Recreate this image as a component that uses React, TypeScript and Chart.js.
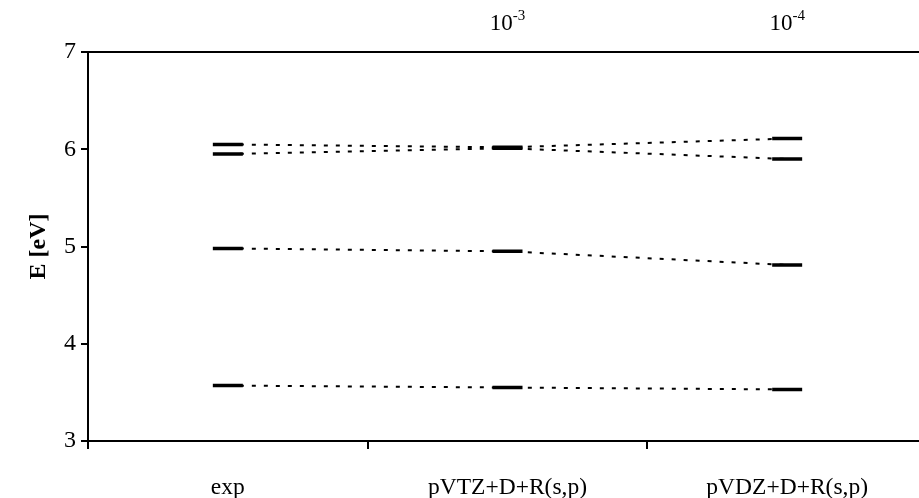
import React, { useEffect, useRef } from "react";
import { Chart, registerables } from "chart.js";

Chart.register(...registerables);

const categories = ["exp", "pVTZ+D+R(s,p)", "pVDZ+D+R(s,p)"];
const topLabels = ["", "10|-3", "10|-4"];
const levelA = [6.05, 6.02, 6.11];
const levelB = [5.95, 6.01, 5.9];
const levelC = [4.98, 4.95, 4.81];
const levelD = [3.57, 3.55, 3.53];
const yTicks = [3, 4, 5, 6, 7];

const FONT = "'Liberation Serif', 'Times New Roman', serif";

const topLabelPlugin = {
  id: "topLabels",
  afterDraw(chart: any) {
    const { ctx, chartArea, scales } = chart;
    ctx.save();
    ctx.strokeStyle = "#000";
    ctx.lineWidth = 2;
    ctx.beginPath();
    ctx.moveTo(chartArea.left, chartArea.top);
    ctx.lineTo(chartArea.right + 10, chartArea.top);
    ctx.stroke();
    ctx.fillStyle = "#000";
    ctx.textBaseline = "alphabetic";
    topLabels.forEach((lab, i) => {
      if (!lab) return;
      const [base, sup] = lab.split("|");
      const x = scales.x.getPixelForValue(i);
      ctx.font = `23px ${FONT}`;
      const wb = ctx.measureText(base).width;
      ctx.font = `15px ${FONT}`;
      const ws = ctx.measureText(sup).width;
      const start = x - (wb + ws) / 2;
      ctx.font = `23px ${FONT}`;
      ctx.fillText(base, start, 30);
      ctx.font = `15px ${FONT}`;
      ctx.fillText(sup, start + wb, 20);
    });
    ctx.restore();
  },
};

function mkSet(data: number[]) {
  return {
    data,
    borderColor: "#000",
    borderWidth: 2,
    borderDash: [4, 8],
    pointStyle: "line",
    pointRadius: 15,
    pointBorderWidth: 3.5,
    pointBorderColor: "#000",
    pointBackgroundColor: "#000",
    tension: 0,
    fill: false,
  };
}

export default function App() {
  const ref = useRef<HTMLCanvasElement>(null);
  useEffect(() => {
    if (!ref.current) return;
    const chart = new Chart(ref.current, {
      type: "line",
      data: {
        labels: categories,
        datasets: [mkSet(levelA), mkSet(levelB), mkSet(levelC), mkSet(levelD)] as any,
      },
      options: {
        responsive: false,
        animation: false,
        devicePixelRatio: 1,
        layout: { autoPadding: false, padding: { top: 52, left: 0, right: 3, bottom: 0 } },
        plugins: { legend: { display: false }, tooltip: { enabled: false } },
        events: [],
        scales: {
          x: {
            type: "category",
            offset: true,
            grid: {
              offset: true,
              drawOnChartArea: false,
              drawTicks: true,
              tickLength: 8,
              color: "#000",
              lineWidth: 2,
            },
            border: { display: true, color: "#000", width: 2 },
            ticks: {
              color: "#000",
              font: { family: FONT, size: 23.5 },
              padding: 25,
              maxRotation: 0,
            },
            afterFit: (s: any) => {
              s.height = 57;
              s.paddingLeft = 0;
              s.paddingRight = 0;
            },
          },
          y: {
            min: 3,
            max: 7,
            afterBuildTicks: (s: any) => {
              s.ticks = yTicks.map((v) => ({ value: v }));
            },
            grid: {
              drawOnChartArea: false,
              drawTicks: true,
              tickLength: 7,
              color: "#000",
              lineWidth: 2,
            },
            border: { display: true, color: "#000", width: 2 },
            ticks: {
              color: "#000",
              font: { family: FONT, size: 24 },
              padding: 5,
            },
            title: {
              display: true,
              text: "E [eV]",
              color: "#000",
              font: { family: FONT, size: 24, weight: "bold" },
              padding: { top: 24, bottom: 0 },
            },
            afterFit: (s: any) => {
              s.width = 88;
              s.paddingTop = 0;
              s.paddingBottom = 0;
            },
          },
        },
      },
      plugins: [topLabelPlugin],
    });
    return () => chart.destroy();
  }, []);
  return (
    <div
      style={{
        position: "fixed",
        left: 0,
        top: 0,
        width: 919,
        height: 498,
        overflow: "hidden",
        background: "#fff",
      }}
    >
      <canvas ref={ref} width={930} height={498} style={{ display: "block", width: 930, height: 498 }} />
    </div>
  );
}
